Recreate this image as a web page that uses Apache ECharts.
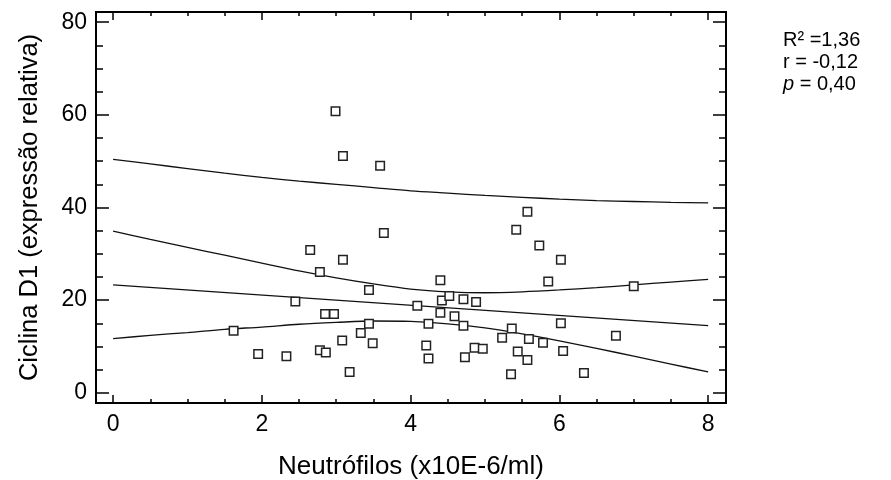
<!DOCTYPE html>
<html>
<head>
<meta charset="utf-8">
<script src="https://cdn.jsdelivr.net/npm/echarts@6/dist/echarts.min.js"></script>
<style>html,body{margin:0;padding:0;background:#fff}#c{width:891px;height:480px}</style>
</head>
<body>
<div id="c"></div>
<script>
// ---- data ----
const neutrofilos = [1.62,1.95,2.33,2.45,2.65,2.78,2.78,2.86,2.85,2.97,2.99,3.09,3.09,3.08,3.18,3.33,3.44,3.44,3.49,3.59,3.64,4.09,4.21,4.24,4.24,4.40,4.42,4.40,4.52,4.59,4.71,4.71,4.73,4.86,4.88,4.97,5.23,5.35,5.36,5.42,5.44,5.57,5.57,5.59,5.73,5.78,5.85,6.02,6.02,6.05,6.33,6.76,7.00];
const ciclinaD1 = [13.4,8.4,7.9,19.7,30.8,26.1,9.2,8.7,17.0,17.0,60.8,51.1,28.7,11.3,4.5,12.9,22.2,14.9,10.7,49.0,34.5,18.8,10.2,14.9,7.4,24.3,19.9,17.3,20.9,16.5,20.2,14.5,7.7,9.7,19.6,9.5,11.9,4.0,13.9,35.2,8.9,39.1,7.1,11.6,31.8,10.8,24.0,28.7,15.0,9.0,4.3,12.3,23.0];
const fitX = [0, 8];
const fitY = [23.3, 14.5];
const bandX = [0,0.5,1,1.5,2,2.5,3,3.5,4,4.5,5,5.5,6,6.5,7,7.5,8];
const ciUpper = [34.9,33.1,31.4,29.7,28.0,26.3,24.8,23.5,22.4,21.8,21.6,21.8,22.2,22.7,23.3,23.9,24.5];
const ciLower = [11.7,12.4,13.0,13.7,14.2,14.8,15.2,15.5,15.4,14.9,14.0,12.7,11.2,9.6,7.9,6.2,4.5];
const piUpper = [50.4,49.4,48.4,47.4,46.5,45.7,45.0,44.3,43.6,43.1,42.6,42.2,41.8,41.5,41.3,41.1,41.0];
const xTicks = [0,2,4,6,8];
const xMinor = [0,0.5,1,1.5,2,2.5,3,3.5,4,4.5,5,5.5,6,6.5,7,7.5,8];
const yTicks = [0,20,40,60,80];
const yMinor = [0,5,10,15,20,25,30,35,40,45,50,55,60,65,70,75,80];
const xTitle = 'Neutrófilos (x10E-6/ml)';
const yTitle = 'Ciclina D1 (expressão relativa)';
const statLines = ['R² =1,36', 'r = -0,12', '{i|p} = 0,40'];

const FONT = 'Liberation Sans, Arial, sans-serif';
const pairs = (xs, ys) => xs.map((x, i) => [x, ys[i]]);

function xAx(pos, ticks, len, labels) {
  return {
    type: 'value', position: pos, min: -0.23, max: 8.24,
    axisLine: { show: false, onZero: false }, splitLine: { show: false },
    axisTick: { show: true, inside: true, length: len, customValues: ticks, lineStyle: { color: '#000', width: 1.5 } },
    axisLabel: labels ? { show: true, customValues: ticks, margin: 10, fontSize: 23, color: '#000', fontFamily: FONT } : { show: false },
    name: labels ? xTitle : '', nameLocation: 'middle', nameGap: 51,
    nameTextStyle: { fontSize: 26, color: '#000', fontFamily: FONT }
  };
}
function yAx(pos, ticks, len, labels) {
  return {
    type: 'value', position: pos, min: -2.2, max: 82.2,
    axisLine: { show: false, onZero: false }, splitLine: { show: false },
    axisTick: { show: true, inside: true, length: len, customValues: ticks, lineStyle: { color: '#000', width: 1.5 } },
    axisLabel: labels ? { show: true, customValues: ticks, margin: 9, fontSize: 23, color: '#000', fontFamily: FONT } : { show: false },
    name: labels ? yTitle : '', nameLocation: 'middle', nameGap: 53, nameRotate: 90,
    nameTextStyle: { fontSize: 25.5, color: '#000', fontFamily: FONT }
  };
}

const lineStyle = { color: '#111', width: 1.3 };
const chart = echarts.init(document.getElementById('c'), null, { renderer: 'canvas' });
chart.setOption({
  animation: false,
  backgroundColor: '#fff',
  grid: { left: 96, top: 12, width: 630, height: 391, outerBoundsMode: 'none', containLabel: false,
    show: true, borderColor: '#000', borderWidth: 2, backgroundColor: 'transparent' },
  xAxis: [xAx('bottom', xTicks, 8, true), xAx('bottom', xMinor, 4, false), xAx('top', xTicks, 8, false), xAx('top', xMinor, 4, false)],
  yAxis: [yAx('left', yTicks, 13, true), yAx('left', yMinor, 7, false), yAx('right', yTicks, 13, false), yAx('right', yMinor, 7, false)],
  series: [
    { type: 'line', data: pairs(fitX, fitY), showSymbol: false, lineStyle: lineStyle, silent: true },
    { type: 'line', data: pairs(bandX, ciUpper), showSymbol: false, smooth: 0.3, lineStyle: lineStyle, silent: true },
    { type: 'line', data: pairs(bandX, ciLower), showSymbol: false, smooth: 0.3, lineStyle: lineStyle, silent: true },
    { type: 'line', data: pairs(bandX, piUpper), showSymbol: false, smooth: 0.3, lineStyle: lineStyle, silent: true },
    { type: 'scatter', data: pairs(neutrofilos, ciclinaD1), symbol: 'rect', symbolSize: 8.5,
      itemStyle: { color: '#fff', borderColor: '#222', borderWidth: 1.5, opacity: 1 }, z: 5 }
  ],
  graphic: statLines.map((t, i) => ({
    type: 'text', x: 783, y: 40 + i * 22,
    style: { text: t, font: '20px ' + FONT, fill: '#000', verticalAlign: 'middle', align: 'left',
      rich: { i: { fontStyle: 'italic', fontSize: 20, fontFamily: FONT, fill: '#000' } } }
  }))
});
</script>
</body>
</html>
